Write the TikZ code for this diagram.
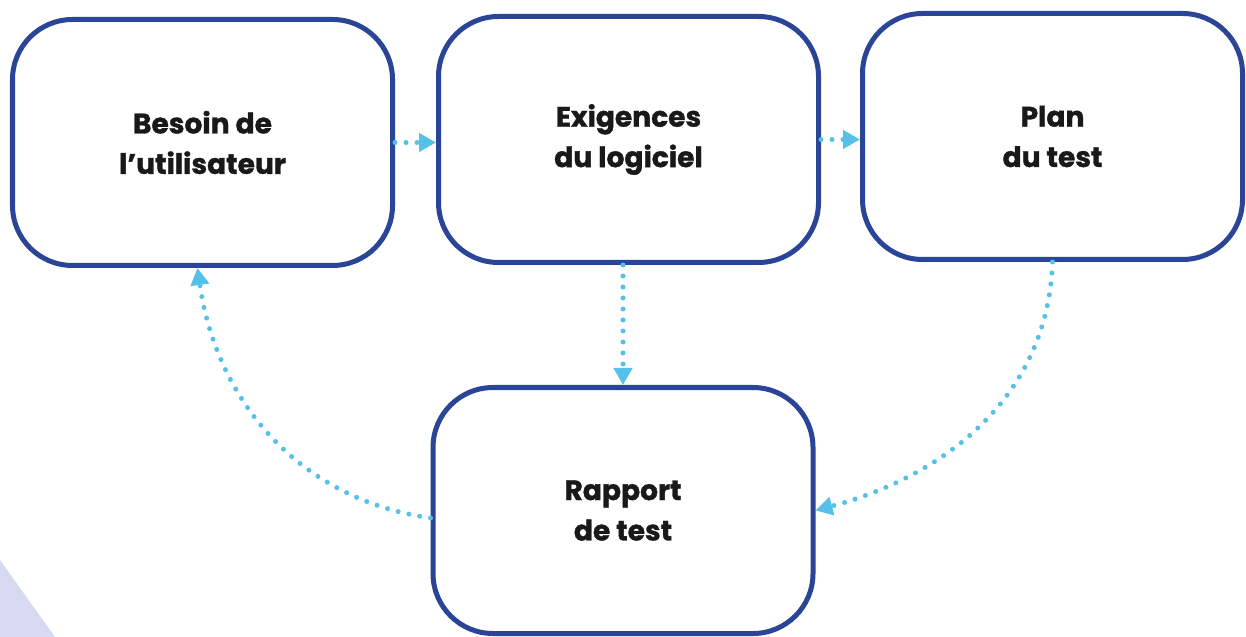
\documentclass[tikz,border=0pt]{standalone}
\usepackage{fontspec}
\setmainfont{Poppins}[BoldFeatures={FakeBold=1.2}]
\usepackage{xcolor}
\usetikzlibrary{calc,positioning,arrows.meta}
\definecolor{testnavy}{HTML}{2A4597}
\definecolor{testsky}{HTML}{55C0E8}
\definecolor{testlilac}{HTML}{D6D9F0}

\begin{document}
\begin{tikzpicture}[
  stagebox/.style={draw=testnavy, line width=0.1cm, fill=white, rounded corners=1.2cm, minimum width=7.6cm, minimum height=4.92cm, align=center, font=\fontsize{16}{23}\selectfont\bfseries, text=black!90},
  flowarrow/.style={draw=testsky, line width=0.1cm, line cap=round, dash pattern=on 0pt off 0.22cm, -{Triangle[length=0.34cm, width=0.36cm, fill=testsky]}}
]
  \useasboundingbox (0,0) rectangle (24.92,-12.74);
  \fill[testlilac] (0,-11.2) -- (1.1,-12.74) -- (0,-12.74) -- cycle;

  \node[stagebox] (besoin) at (4.05,-2.85) {Besoin de\\l’utilisateur};
  \node[stagebox] (exig) at (12.57,-2.79) {Exigences\\du logiciel};
  \node[stagebox] (plan) at (21.05,-2.73) {Plan\\du test};
  \node[stagebox] (rapport) at (12.46,-10.21) {Rapport\\de test};

  \draw[flowarrow] (besoin.east) -- (besoin.east -| exig.west);
  \draw[flowarrow] (exig.east) -- (exig.east -| plan.west);
  \draw[flowarrow] (exig.south -| rapport.north) -- (rapport.north);
  \draw[flowarrow] (plan.south) to[out=-92, in=15] (rapport.east);
  \draw[flowarrow] ($(rapport.west)+(0,-0.15)$) to[out=172, in=-82] ($(besoin.south)+(-0.1,0)$);
\end{tikzpicture}
\end{document}
